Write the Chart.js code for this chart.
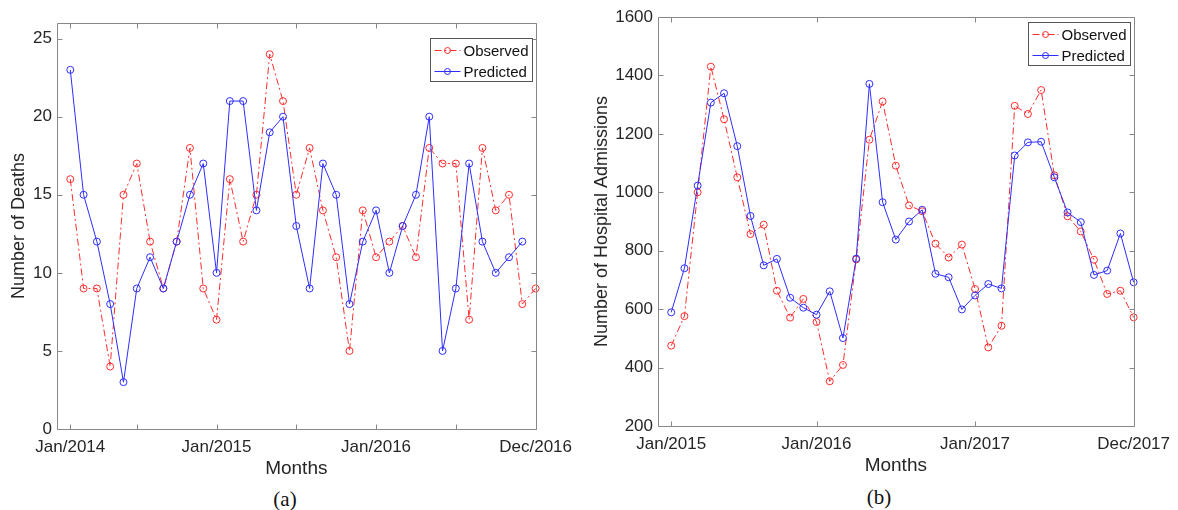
<!DOCTYPE html>
<html>
<head>
<meta charset="utf-8">
<script src="https://cdn.jsdelivr.net/npm/chart.js@4.4.1/dist/chart.umd.min.js"></script>
<style>
  body { margin: 0; background: #fff; width: 1178px; height: 510px; position: relative; overflow: hidden; }
  canvas { position: absolute; top: 0; }
  #chartA { left: 0; }
  #chartB { left: 590px; }
  .cap { position: absolute; font-family: "Liberation Serif", serif; font-size: 21px; line-height: 21px; color: #111; transform: translateX(-50%); }
</style>
</head>
<body>
<canvas id="chartA" width="580" height="482"></canvas>
<canvas id="chartB" width="588" height="482"></canvas>
<div class="cap" style="left:285px; top:489px">(a)</div>
<div class="cap" style="left:879px; top:487px">(b)</div>
<script>
// (a) deaths per month, Jan/2014 - Dec/2016
const deathsObserved  = [16, 9, 9, 4, 15, 17, 12, 9, 12, 18, 9, 7, 16, 12, 15, 24, 21, 15,
                         18, 14, 11, 5, 14, 11, 12, 13, 11, 18, 17, 17, 7, 18, 14, 15, 8, 9];
const deathsPredicted = [23, 15, 12, 8, 3, 9, 11, 9, 12, 15, 17, 10, 21, 21, 14, 19, 20, 13,
                         9, 17, 15, 8, 12, 14, 10, 13, 15, 20, 5, 9, 17, 12, 10, 11, 12];
const deathsMonthTicks  = [0, 5, 11, 17, 23, 29, 35];
const deathsMonthLabels = ['Jan/2014', '', 'Jan/2015', '', 'Jan/2016', '', 'Dec/2016'];
const deathsYTicks = [0, 5, 10, 15, 20, 25];

// (b) hospital admissions per month, Jan/2015 - Dec/2017
const admObserved  = [475, 576, 1000, 1430, 1250, 1051, 857, 889, 663, 571, 635, 556, 353, 409,
                      770, 1180, 1311, 1091, 955, 935, 824, 777, 821, 669, 469, 543, 1296, 1268,
                      1350, 1058, 918, 866, 769, 652, 663, 572];
const admPredicted = [589, 740, 1023, 1307, 1339, 1158, 919, 750, 772, 639, 605, 581, 661, 501,
                      773, 1371, 966, 838, 900, 940, 721, 709, 599, 647, 686, 671, 1126, 1171,
                      1173, 1051, 931, 898, 717, 732, 859, 692];
const admMonthTicks  = [0, 11, 23, 35];
const admMonthLabels = ['Jan/2015', 'Jan/2016', 'Jan/2017', 'Dec/2017'];
const admYTicks = [200, 400, 600, 800, 1000, 1200, 1400, 1600];

const FONT = '"Liberation Sans", Arial, sans-serif';
const TXT = '#262626';
const RED = 'rgb(255,45,45)';
const BLUE = 'rgb(45,45,255)';

// matlab style box with inward ticks
const frameTicks = {
  id: 'frameTicks',
  afterDatasetsDraw(chart) {
    const {ctx, chartArea: a, scales: {x, y}} = chart;
    const L = Math.round(a.left) + 0.5, R = Math.round(a.right) + 0.5;
    const T = Math.round(a.top) + 0.5, B = Math.round(a.bottom) + 0.5;
    ctx.save();
    ctx.strokeStyle = '#888';
    ctx.lineWidth = 1;
    ctx.beginPath();
    ctx.rect(L, T, R - L, B - T);
    x.ticks.forEach(t => {
      const px = Math.round(x.getPixelForValue(t.value)) + 0.5;
      ctx.moveTo(px, B); ctx.lineTo(px, B - 5);
      ctx.moveTo(px, T); ctx.lineTo(px, T + 5);
    });
    y.ticks.forEach(t => {
      const py = Math.round(y.getPixelForValue(t.value)) + 0.5;
      ctx.moveTo(L, py); ctx.lineTo(L + 5, py);
      ctx.moveTo(R, py); ctx.lineTo(R - 5, py);
    });
    ctx.stroke();
    ctx.restore();
  }
};

// legend in a box at the top right corner
const boxLegend = {
  id: 'boxLegend',
  afterDraw(chart, args, opts) {
    const {ctx, chartArea: a} = chart;
    const w = 102, h = 43;
    const x0 = Math.round(a.right - 4 - w) + 0.5, y0 = Math.round(a.top + opts.top) + 0.5;
    ctx.save();
    ctx.fillStyle = '#fff';
    ctx.fillRect(x0, y0, w, h);
    ctx.strokeStyle = '#555';
    ctx.lineWidth = 1;
    ctx.strokeRect(x0, y0, w, h);
    ctx.font = '15px ' + FONT;
    ctx.textBaseline = 'middle';
    chart.data.datasets.forEach((ds, i) => {
      const ly = y0 + 12 + i * 21;
      ctx.strokeStyle = ds.borderColor;
      ctx.setLineDash(ds.borderDash || []);
      ctx.beginPath();
      ctx.moveTo(x0 + 4, ly); ctx.lineTo(x0 + 30, ly);
      ctx.stroke();
      ctx.setLineDash([]);
      ctx.beginPath();
      ctx.arc(x0 + 17, ly, 3, 0, Math.PI * 2);
      ctx.stroke();
      ctx.fillStyle = '#111';
      ctx.fillText(ds.label, x0 + 33, ly + 1);
    });
    ctx.restore();
  }
};

function makeChart(id, obs, pred, monthTicks, monthLabels, yTicks, yMin, yMax, yTitle, o) {
  const pts = arr => arr.map((v, i) => ({x: i, y: v}));
  return new Chart(document.getElementById(id), {
    type: 'line',
    data: {
      datasets: [{
        label: 'Observed',
        data: pts(obs),
        borderColor: RED,
        borderWidth: 1,
        borderDash: [7, 3, 2, 3],
        pointRadius: 3.5,
        pointBorderColor: RED,
        pointBackgroundColor: 'rgba(0,0,0,0)',
        pointBorderWidth: 1,
        tension: 0,
        clip: false,
        order: 1
      }, {
        label: 'Predicted',
        data: pts(pred),
        borderColor: BLUE,
        borderWidth: 1,
        pointRadius: 3.5,
        pointBorderColor: BLUE,
        pointBackgroundColor: 'rgba(0,0,0,0)',
        pointBorderWidth: 1,
        tension: 0,
        clip: false,
        order: 0
      }]
    },
    options: {
      responsive: false,
      animation: false,
      layout: {padding: {top: o.top, right: o.right, bottom: o.bottom, left: 0}},
      plugins: {
        legend: {display: false},
        tooltip: {enabled: false},
        boxLegend: {top: o.legendTop}
      },
      scales: {
        x: {
          type: 'linear',
          min: -1,
          max: 35,
          afterBuildTicks: s => { s.ticks = monthTicks.map(v => ({value: v})); },
          afterFit: s => { s.height = 51; },
          grid: {display: false, drawTicks: false},
          border: {display: false},
          ticks: {
            autoSkip: false,
            maxRotation: 0,
            padding: 8,
            color: TXT,
            font: {family: FONT, size: 17},
            callback: v => monthLabels[monthTicks.indexOf(v)]
          },
          title: {display: true, text: 'Months', color: TXT, padding: 0, font: {family: FONT, size: 19}}
        },
        y: {
          min: yMin,
          max: yMax,
          afterBuildTicks: s => { s.ticks = yTicks.map(v => ({value: v})); },
          afterFit: s => { s.width = o.yWidth; },
          grid: {display: false, drawTicks: false},
          border: {display: false},
          ticks: {padding: 5, color: TXT, font: {family: FONT, size: 17}, callback: v => String(v)},
          title: {display: true, text: yTitle, color: TXT, padding: {top: o.yTitlePad, bottom: 0},
                  font: {family: FONT, size: 18}}
        }
      }
    },
    plugins: [frameTicks, boxLegend]
  });
}

makeChart('chartA', deathsObserved, deathsPredicted, deathsMonthTicks, deathsMonthLabels,
  deathsYTicks, 0, 26, 'Number of Deaths',
  {top: 23, right: 44, bottom: 2, yWidth: 57, yTitlePad: 8, legendTop: 15});

makeChart('chartB', admObserved, admPredicted, admMonthTicks, admMonthLabels,
  admYTicks, 200, 1600, 'Number of Hospital Admissions',
  {top: 17, right: 40, bottom: 5, yWidth: 68, yTitlePad: 1, legendTop: 5});
</script>
</body>
</html>
